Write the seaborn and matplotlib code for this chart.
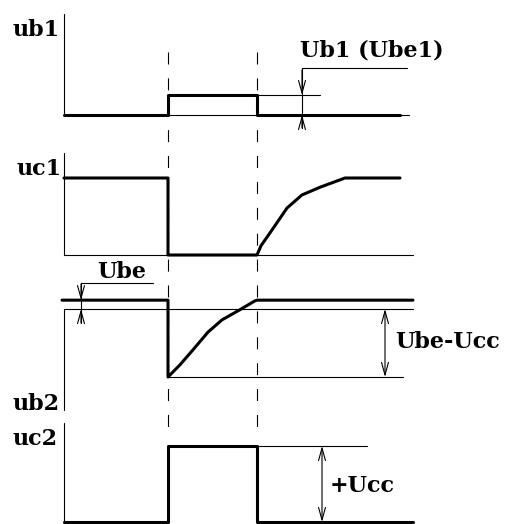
import numpy as np
import pandas as pd
import seaborn as sns
import matplotlib.pyplot as plt

# %%
# time axis (arbitrary units, 0 = start of each trace)
t_on = 104
t_off = 193
t_end = 336

# ub1: input pulse (units of Ub1)
ub1_t = [0, 104, 104, 193, 193, 336]
ub1_v = [0, 0, 1, 1, 0, 0]

# uc1: collector of transistor 1 (units of Ucc)
uc1_t = [0, 104, 104, 193, 197, 204, 213, 223, 238, 256, 281, 336]
uc1_v = [1, 1, 0, 0, 0.12, 0.25, 0.42, 0.61, 0.78, 0.88, 1.0, 1.0]

# ub2: base of transistor 2 (units of Ucc, Ube ~ 0.13)
ub2_t = [-2, 104, 104, 116, 129, 144, 158, 176, 191, 193, 349]
ub2_v = [0.13, 0.13, -1.0, -0.82, -0.60, -0.34, -0.16, -0.01, 0.12, 0.13, 0.13]

# uc2: collector of transistor 2 (units of Ucc)
uc2_t = [0, 104, 104, 193, 193, 349]
uc2_v = [0, 0, 1, 1, 0, 0]

labels = ['ub1', 'uc1', 'ub2', 'uc2']

# %%
# panel placement: (zero line row, pixels per unit)
x0 = 64
panel = {'ub1': (115, 20), 'uc1': (255, 77), 'ub2': (309, 68), 'uc2': (522, 76)}


def px(t):
    return x0 + np.asarray(t, dtype=float)


def py(name, v):
    base, h = panel[name]
    return base - h * np.asarray(v, dtype=float)


sns.set_style('white')
plt.rcParams['font.family'] = ['DejaVu Serif']

fig = plt.figure(figsize=(5.1, 5.24), dpi=100)
ax = fig.add_axes([0, 0, 1, 1])
ax.set_xlim(0, 510)
ax.set_ylim(524, 0)
ax.axis('off')

thick = 2.2
thin = 0.8
k = 'black'

# traces
for name, t, v in [('ub1', ub1_t, ub1_v), ('uc1', uc1_t, uc1_v),
                   ('ub2', ub2_t, ub2_v), ('uc2', uc2_t, uc2_v)]:
    df = pd.DataFrame({'x': px(t), 'y': py(name, v)})
    sns.lineplot(data=df, x='x', y='y', sort=False, estimator=None,
                 color=k, lw=thick, ax=ax)
ax.set_xlabel('')
ax.set_ylabel('')

# vertical axes of each trace
ax.plot([x0, x0], [14, 115], color=k, lw=thin)
ax.plot([x0, x0], [153, 255], color=k, lw=thin)
ax.plot([x0, x0], [309, 410], color=k, lw=thin)
ax.plot([x0, x0], [423, 522], color=k, lw=thin)

# thin reference lines
ax.plot(px([0, 345]), py('ub1', [0, 0]), color=k, lw=thin)
ax.plot(px([t_off, 256]), py('ub1', [1, 1]), color=k, lw=thin)
ax.plot(px([0, 349]), py('uc1', [0, 0]), color=k, lw=thin)
ax.plot(px([0, 349]), py('ub2', [0, 0]), color=k, lw=thin)
ax.plot(px([t_on, 339]), py('ub2', [-1, -1]), color=k, lw=thin)
ax.plot(px([t_off, 303]), py('uc2', [1, 1]), color=k, lw=thin)

# dashed switching instants
for t in [t_on, t_off]:
    ax.plot(px([t, t]), [52, 432], color=k, lw=0.8,
            linestyle=(0, (10.8, 12.5)))

arrow = dict(arrowstyle='->,head_length=0.9,head_width=0.25', color=k,
             lw=thin, shrinkA=0, shrinkB=0)
both = dict(arrowstyle='<->,head_length=0.9,head_width=0.25', color=k,
            lw=thin, shrinkA=0, shrinkB=0)

# Ub1 (Ube1) dimension
xa = px(238)
ax.plot([xa, px(343)], [68, 68], color=k, lw=thin)
ax.plot([xa, xa], [68, 128], color=k, lw=thin)
ax.annotate('', xy=(xa, py('ub1', 1)), xytext=(xa, 70), arrowprops=arrow)
ax.annotate('', xy=(xa, py('ub1', 0)), xytext=(xa, 128), arrowprops=arrow)

# Ube dimension
xb = px(17)
ax.plot([xb, px(89)], [283, 283], color=k, lw=thin)
ax.plot([xb, xb], [283, 323], color=k, lw=thin)
ax.annotate('', xy=(xb, py('ub2', 0.13)), xytext=(xb, 284), arrowprops=arrow)
ax.annotate('', xy=(xb, py('ub2', 0)), xytext=(xb, 323), arrowprops=arrow)

# Ube-Ucc dimension
xc = px(321)
ax.annotate('', xy=(xc, py('ub2', 0)), xytext=(xc, py('ub2', -1)),
            arrowprops=both)

# +Ucc dimension
xd = px(258)
ax.annotate('', xy=(xd, py('uc2', 1)), xytext=(xd, py('uc2', 0)),
            arrowprops=both)

# text
fs = 16
tkw = dict(fontsize=fs, fontweight='bold', color=k, va='baseline', ha='left')
ax.text(13, 36, labels[0], **tkw)
ax.text(17, 175, labels[1], **tkw)
ax.text(13, 410, labels[2], **tkw)
ax.text(13, 445, labels[3], **tkw)
ax.text(300, 57, 'Ub1 (Ube1)', **tkw)
ax.text(97, 278, 'Ube', **tkw)
ax.text(395, 348, 'Ube-Ucc', **tkw)
ax.text(330, 492, '+Ucc', **tkw)

fig.savefig('out.png', dpi=100)
